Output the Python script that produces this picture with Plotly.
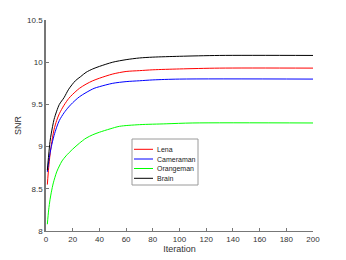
import plotly.graph_objects as go

# Data
lena_x = [1, 2, 3, 4, 6, 8, 10, 13.5, 17, 20, 25, 30, 35, 40, 50, 60, 70, 80, 100, 130, 200]
lena_y = [8.55, 8.75, 8.90, 9.02, 9.20, 9.31, 9.39, 9.49, 9.57, 9.62, 9.69, 9.74, 9.78, 9.81,
          9.86, 9.89, 9.90, 9.91, 9.92, 9.93, 9.93]

cam_x = [1, 2, 3, 4, 6, 8, 10, 13.5, 17, 20, 25, 30, 36, 40, 50, 60, 70, 80, 100, 200]
cam_y = [8.70, 8.82, 8.92, 9.00, 9.13, 9.23, 9.31, 9.40, 9.47, 9.52, 9.59, 9.64, 9.69, 9.71,
         9.75, 9.77, 9.78, 9.79, 9.80, 9.80]

orange_x = [1, 2, 3, 4, 5.5, 8, 10, 12, 15, 20, 25, 30, 35, 40, 48, 55, 70, 90, 110, 200]
orange_y = [8.08, 8.25, 8.37, 8.46, 8.57, 8.70, 8.77, 8.83, 8.89, 8.97, 9.04, 9.10, 9.14, 9.17,
            9.21, 9.24, 9.26, 9.27, 9.28, 9.28]

brain_x = [1, 2, 3, 4, 6, 8, 10, 13.5, 17, 22, 26, 30, 35, 40, 50, 60, 70, 80, 100, 130, 200]
brain_y = [8.72, 8.90, 9.06, 9.16, 9.32, 9.42, 9.50, 9.58, 9.68, 9.78, 9.83, 9.88, 9.92, 9.95,
           10.00, 10.03, 10.05, 10.06, 10.07, 10.08, 10.08]

names = ["Lena", "Cameraman", "Orangeman", "Brain"]
colors = ["#ff0000", "#0000ff", "#00ff00", "#000000"]
xs_all = [lena_x, cam_x, orange_x, brain_x]
ys_all = [lena_y, cam_y, orange_y, brain_y]

x_ticks = [0, 20, 40, 60, 80, 100, 120, 140, 160, 180, 200]
y_ticks = [8, 8.5, 9, 9.5, 10, 10.5]
y_tick_text = ["8", "8.5", "9", "9.5", "10", "10.5"]

W, H = 346, 260
L, R, T, B = 46, 33, 20, 29
PW, PH = W - L - R, H - T - B

def px(xp):
    return (xp - L) / PW

def py(yp):
    return (H - B - yp) / PH

fig = go.Figure()
for name, xs, ys, color in zip(names, xs_all, ys_all, colors):
    fig.add_trace(go.Scatter(
        x=xs, y=ys, name=name, mode="lines",
        line=dict(color=color, width=1, shape="spline", smoothing=0.8),
        showlegend=False,
    ))

# Custom compact legend (MATLAB style)
shapes = [dict(type="rect", xref="paper", yref="paper",
               x0=px(132), x1=px(198), y0=py(185), y1=py(139),
               line=dict(color="#9a9a9a", width=1), fillcolor="white", layer="above")]
annotations = []
item_y = [149.3, 159, 168.5, 178.3]
for name, color, yy in zip(names, colors, item_y):
    shapes.append(dict(type="line", xref="paper", yref="paper",
                       x0=px(134), x1=px(153), y0=py(yy), y1=py(yy),
                       line=dict(color=color, width=1), layer="above"))
    annotations.append(dict(text=name, xref="paper", yref="paper",
                            x=px(155), y=py(yy), xanchor="left", yanchor="middle",
                            showarrow=False, font=dict(size=7, color="#222222")))

axis_color = "#777777"
fig.update_layout(
    width=W, height=H,
    margin=dict(l=L, r=R, t=T, b=B),
    paper_bgcolor="white", plot_bgcolor="white",
    font=dict(family="Liberation Sans, Arial, sans-serif", size=8, color="#333333"),
    shapes=shapes, annotations=annotations,
    xaxis=dict(
        range=[0, 200], tickvals=x_ticks, ticks="inside", ticklen=3,
        tickcolor=axis_color, showline=True, linecolor=axis_color, linewidth=1,
        showgrid=False, zeroline=False, automargin=False,
        title=dict(text="Iteration", font=dict(size=9, color="#333333"), standoff=3),
    ),
    yaxis=dict(
        range=[8, 10.5], tickvals=y_ticks, ticktext=y_tick_text, ticks="inside", ticklen=3,
        tickcolor=axis_color, showline=True, linecolor=axis_color, linewidth=1.5,
        showgrid=False, zeroline=False, automargin=False,
        title=dict(text="SNR", font=dict(size=9, color="#333333"), standoff=4),
    ),
)

fig.write_html("out.html",
               config={"displayModeBar": False},
               post_script="document.body.style.margin='0';document.body.style.overflow='hidden';")
